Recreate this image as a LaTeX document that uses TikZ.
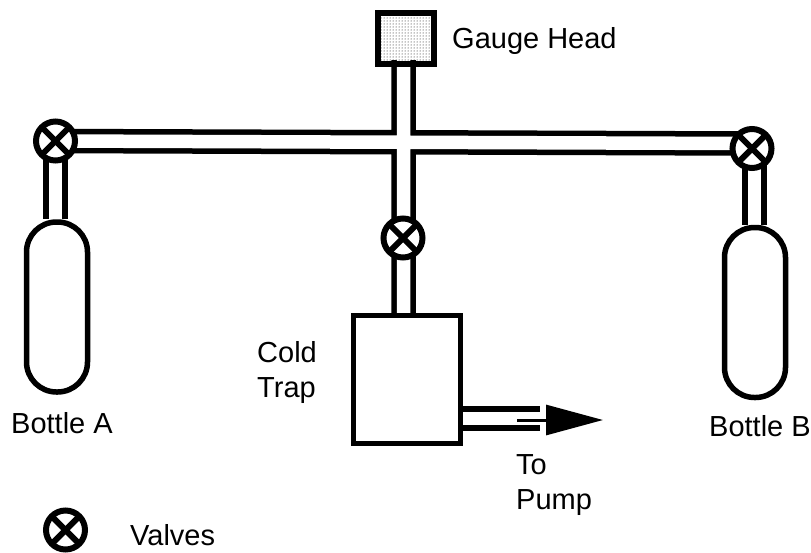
\documentclass[tikz,border=0pt]{standalone}
\usepackage{fontspec}
\setmainfont{Liberation Sans}
\usetikzlibrary{arrows.meta,backgrounds,patterns}

\tikzset{
	lbl/.style={font=\fontsize{29}{35}\selectfont,align=left,inner sep=0pt},
	valve/.style={circle,draw,line width=6pt,fill=white,minimum size=39pt,inner sep=0pt,
		path picture={
			\draw[line width=6pt] (path picture bounding box.south west) -- (path picture bounding box.north east);
			\draw[line width=6pt] (path picture bounding box.north west) -- (path picture bounding box.south east);
		}},
	bottle/.style={draw,line width=5.5pt,fill=white,minimum width=61pt,minimum height=170pt,rounded corners=30pt,inner sep=0pt},
	pipe/.style={line width=5.5pt,double=white,double distance=13.5pt,draw=black},
}

\begin{document}
\begin{tikzpicture}[x=1pt,y=-1pt]
	\useasboundingbox (0,0) rectangle (811,552);
	% valves
	\node[valve] (valveA) at (55.5,141) {};
	\node[valve] (valveB) at (752,148.5) {};
	\node[valve] (valveC) at (403,238) {};
	\node[valve] (valveKey) at (65.5,530) {};
	% vessels
	\node[bottle] (bottleA) at (57,307) {};
	\node[bottle] (bottleB) at (755,312.5) {};
	\node[draw,line width=5.5pt,fill=white,minimum width=107pt,minimum height=128pt,inner sep=0pt] (trap) at (407,379.5) {};
	\node[draw,line width=6pt,pattern=dots,minimum width=56pt,minimum height=51pt,inner sep=0pt] (gauge) at (406,38.5) {};
	% pipe ends
	\coordinate (gaugeEnd) at (403.5,60);
	\coordinate (trapEnd) at (403.5,320);
	\coordinate (rightEnd) at (745,143.5);
	\coordinate (neckB) at (754.5,148.5);
	\coordinate (outA) at (450,418.5);
	\coordinate (outB) at (540,418.5);
	\coordinate (stemA) at (517,420);
	\coordinate (tipA) at (603,420);
	\begin{scope}[on background layer]
		\draw[pipe] (valveA.center) -- (rightEnd) (gaugeEnd) -- (trapEnd);
		\draw[pipe] (valveA.center) -- (valveA.center |- bottleA.north);
		\draw[pipe] (neckB) -- (neckB |- bottleB.north);
		\draw[pipe] (outA) -- (outB);
	\end{scope}
	\draw[line width=3pt,-{Triangle[length=57pt,width=30pt]}] (stemA) -- (tipA);
	% labels
	\node[lbl,anchor=west] (gaugeLbl) at (452,41) {Gauge Head};
	\node[lbl,anchor=west] (bottleALbl) at (11,423) {Bottle A};
	\node[lbl,anchor=west] (bottleBLbl) at (709,426) {Bottle B};
	\node[lbl,anchor=west] (trapLbl) at (257,372) {Cold\\Trap};
	\node[lbl,anchor=west] (pumpLbl) at (516,485) {To\\Pump};
	\node[lbl,anchor=west] (keyLbl) at (130,535) {Valves};
\end{tikzpicture}
\end{document}
